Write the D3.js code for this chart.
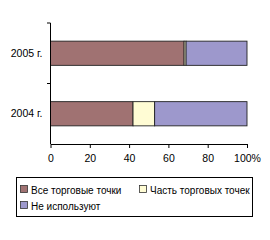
<!DOCTYPE html>
<html>
<head>
<meta charset="utf-8">
<script src="https://cdn.jsdelivr.net/npm/d3@7"></script>
<style>
  body { margin: 0; background: #fff; }
  text { font-family: "Liberation Sans", Arial, sans-serif; fill: #000; }
</style>
</head>
<body>
<svg></svg>
<script>
// Size of the SVG element
let width = 270,
    height = 240;

// Chart data
let years = ["2005 г.", "2004 г."];
let series = ["Все торговые точки", "Часть торговых точек", "Не используют"];
let allShops = [68, 42];
let someShops = [1, 11];
let notUsed = [31, 47];
let colors = ["#a07272", "#fffcd4", "#9d98cc"];
let xTicks = [0, 20, 40, 60, 80, 100];

let svg = d3.select("svg")
    .attr("width", width)
    .attr("height", height);

// Build rows for the stack layout
let rows = years.map(function(y, i) {
    return {year: y, s0: allShops[i], s1: someShops[i], s2: notUsed[i]};
});
let stack = d3.stack().keys(["s0", "s1", "s2"]);
let layers = stack(rows);

// Scales
let x = d3.scaleLinear()
    .domain([0, 100])
    .range([50.5, 247]);

let y = d3.scaleBand()
    .domain(years)
    .range([23, 144])
    .paddingInner(0.6)
    .paddingOuter(0.3);

// Bars
svg.append("g")
    .selectAll("g")
    .data(layers)
    .enter().append("g")
    .style("fill", function(d, i) { return colors[i]; })
    .selectAll("rect")
    .data(function(d) { return d; })
    .enter().append("rect")
    .attr("x", function(d) { return x(d[0]); })
    .attr("width", function(d) { return x(d[1]) - x(d[0]); })
    .attr("y", function(d) { return y(d.data.year); })
    .attr("height", y.bandwidth())
    .style("stroke", "#222")
    .style("stroke-width", "0.9px");

// X axis
let xAxis = svg.append("g")
    .attr("transform", "translate(0,144)")
    .call(d3.axisBottom(x)
        .tickValues(xTicks)
        .tickSize(4)
        .tickSizeOuter(0)
        .tickFormat(function(d) { return d === 100 ? "100%" : d; }));
xAxis.select(".domain").attr("stroke", "#000");
xAxis.selectAll(".tick text")
    .attr("dy", "0")
    .attr("y", 18)
    .style("font-size", "10.5px")
    .style("font-family", "Liberation Sans, Arial, sans-serif");

// Y axis line with ticks at band boundaries
let yAxis = svg.append("g");
yAxis.append("line")
    .attr("x1", 50.5).attr("x2", 50.5)
    .attr("y1", 23).attr("y2", 144)
    .attr("stroke", "#000");
yAxis.selectAll("line.tk")
    .data([23, (y(years[0]) + y.bandwidth() + y(years[1])) / 2])
    .enter().append("line")
    .attr("class", "tk")
    .attr("x1", 47).attr("x2", 50.5)
    .attr("y1", function(d) { return d; })
    .attr("y2", function(d) { return d; })
    .attr("stroke", "#000");
yAxis.selectAll("text")
    .data(years)
    .enter().append("text")
    .attr("x", 42.5)
    .attr("y", function(d) { return y(d) + y.bandwidth() / 2; })
    .attr("dy", "0.35em")
    .attr("text-anchor", "end")
    .style("font-size", "10.5px")
    .text(function(d) { return d; });

// Legend
let legend = svg.append("g");
legend.append("rect")
    .attr("x", 16.5).attr("y", 177.5)
    .attr("width", 236).attr("height", 39)
    .style("fill", "#fff")
    .style("stroke", "#000")
    .style("stroke-width", "1px");

let legendPos = [[20, 190], [139, 190], [20, 206]];
let items = legend.selectAll("g.item")
    .data(series)
    .enter().append("g")
    .attr("class", "item")
    .attr("transform", function(d, i) {
        return "translate(" + legendPos[i][0] + "," + legendPos[i][1] + ")";
    });
items.append("rect")
    .attr("x", 0.5).attr("y", -4.5)
    .attr("width", 7).attr("height", 7)
    .style("fill", function(d, i) { return colors[i]; })
    .style("stroke", "#333")
    .style("stroke-width", "0.8px");
items.append("text")
    .attr("x", 11)
    .attr("y", 0)
    .attr("dy", "0.35em")
    .style("font-size", "10px")
    .text(function(d) { return d; });
</script>
</body>
</html>
